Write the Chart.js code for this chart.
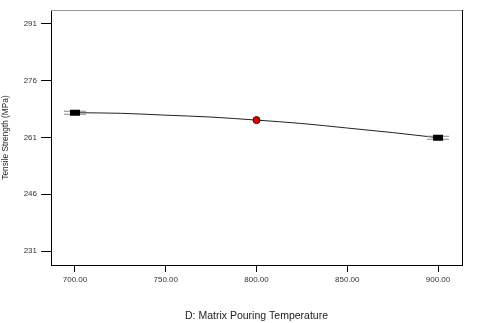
<!DOCTYPE html>
<html><head><meta charset="utf-8">
<script src="https://cdn.jsdelivr.net/npm/chart.js@4/dist/chart.umd.min.js"></script>
<style>html,body{margin:0;padding:0;background:#fff}#wrap{width:480px;height:323px}</style>
</head><body><div id="wrap"><canvas id="c" width="480" height="323"></canvas></div>
<script>
// Data
const xTicks = [700, 750, 800, 850, 900];
const yTicks = [231, 246, 261, 276, 291];
const curveX = [700, 725, 750, 775, 800, 825, 850, 875, 900];
const curveY = [267.55, 267.4, 266.9, 266.4, 265.6, 264.7, 263.5, 262.3, 260.95];
const centerX = [800];
const centerY = [265.6];
const endX = [700, 900];
const endY = [267.55, 260.95];
const xTitle = 'D: Matrix Pouring Temperature';
const yTitle = 'Tensile Strength (MPa)';

// marker glyph for end points
const mk = document.createElement('canvas');
mk.width = 22; mk.height = 8;
(function(){
  const g = mk.getContext('2d');
  g.strokeStyle = '#888'; g.lineWidth = 1;
  g.beginPath(); g.moveTo(0, 2.5); g.lineTo(22, 2.5); g.moveTo(0, 5.5); g.lineTo(22, 5.5); g.stroke();
  g.fillStyle = '#000'; g.fillRect(6, 1, 10, 6);
})();

const frame = {
  id: 'frame',
  afterDraw(chart) {
    const a = chart.chartArea, c = chart.ctx;
    c.save();
    c.lineWidth = 1;
    c.strokeStyle = '#999';
    c.beginPath(); c.moveTo(a.left, a.top + 0.5); c.lineTo(a.right, a.top + 0.5); c.stroke();
    c.strokeStyle = '#000';
    c.beginPath(); c.moveTo(a.right + 0.5, a.top); c.lineTo(a.right + 0.5, a.bottom); c.stroke();
    c.restore();
  }
};

const tickFont = { family: 'Liberation Sans, Arial, sans-serif', size: 8 };
new Chart(document.getElementById('c'), {
  type: 'scatter',
  data: {
    datasets: [
      { data: curveX.map((x, i) => ({ x, y: curveY[i] })), showLine: true, borderColor: '#222', borderWidth: 1, pointRadius: 0, tension: 0.4, cubicInterpolationMode: 'monotone', order: 3 },
      { data: endX.map((x, i) => ({ x, y: endY[i] })), pointStyle: mk, pointRadius: 5, order: 2 },
      { data: centerX.map((x, i) => ({ x, y: centerY[i] })), pointStyle: 'circle', pointRadius: 3.5, backgroundColor: '#e00000', borderColor: '#400', borderWidth: 1, order: 1 }
    ]
  },
  options: {
    responsive: false, animation: false, devicePixelRatio: 1,
    layout: { padding: { top: 10, right: 18, left: 0, bottom: 0 } },
    plugins: { legend: { display: false }, tooltip: { enabled: false } },
    scales: {
      x: {
        type: 'linear', min: 686.8, max: 913.2,
        afterBuildTicks: s => { s.ticks = xTicks.map(v => ({ value: v })); },
        afterFit: s => { s.height = 58; },
        ticks: { font: tickFont, color: '#333', padding: 3, maxRotation: 0, callback: v => Number(v).toFixed(2) },
        grid: { drawOnChartArea: false, tickLength: 7, color: '#000', lineWidth: 1 },
        border: { color: '#000', width: 1 },
        title: { display: true, text: xTitle, color: '#222', font: { family: 'Liberation Sans, Arial, sans-serif', size: 10.5 }, padding: { top: 0, bottom: 1 } }
      },
      y: {
        type: 'linear', min: 227.3, max: 294.7,
        afterBuildTicks: s => { s.ticks = yTicks.map(v => ({ value: v })); },
        afterFit: s => { s.width = 51; },
        ticks: { font: tickFont, color: '#333', padding: 4, callback: v => String(v) },
        grid: { drawOnChartArea: false, tickLength: 10, color: '#000', lineWidth: 1 },
        border: { color: '#000', width: 1 },
        title: { display: true, text: yTitle, color: '#222', font: { family: 'Liberation Sans, Arial, sans-serif', size: 8.3 }, padding: { top: 1, bottom: 0 } }
      }
    }
  },
  plugins: [frame]
});
</script></body></html>
